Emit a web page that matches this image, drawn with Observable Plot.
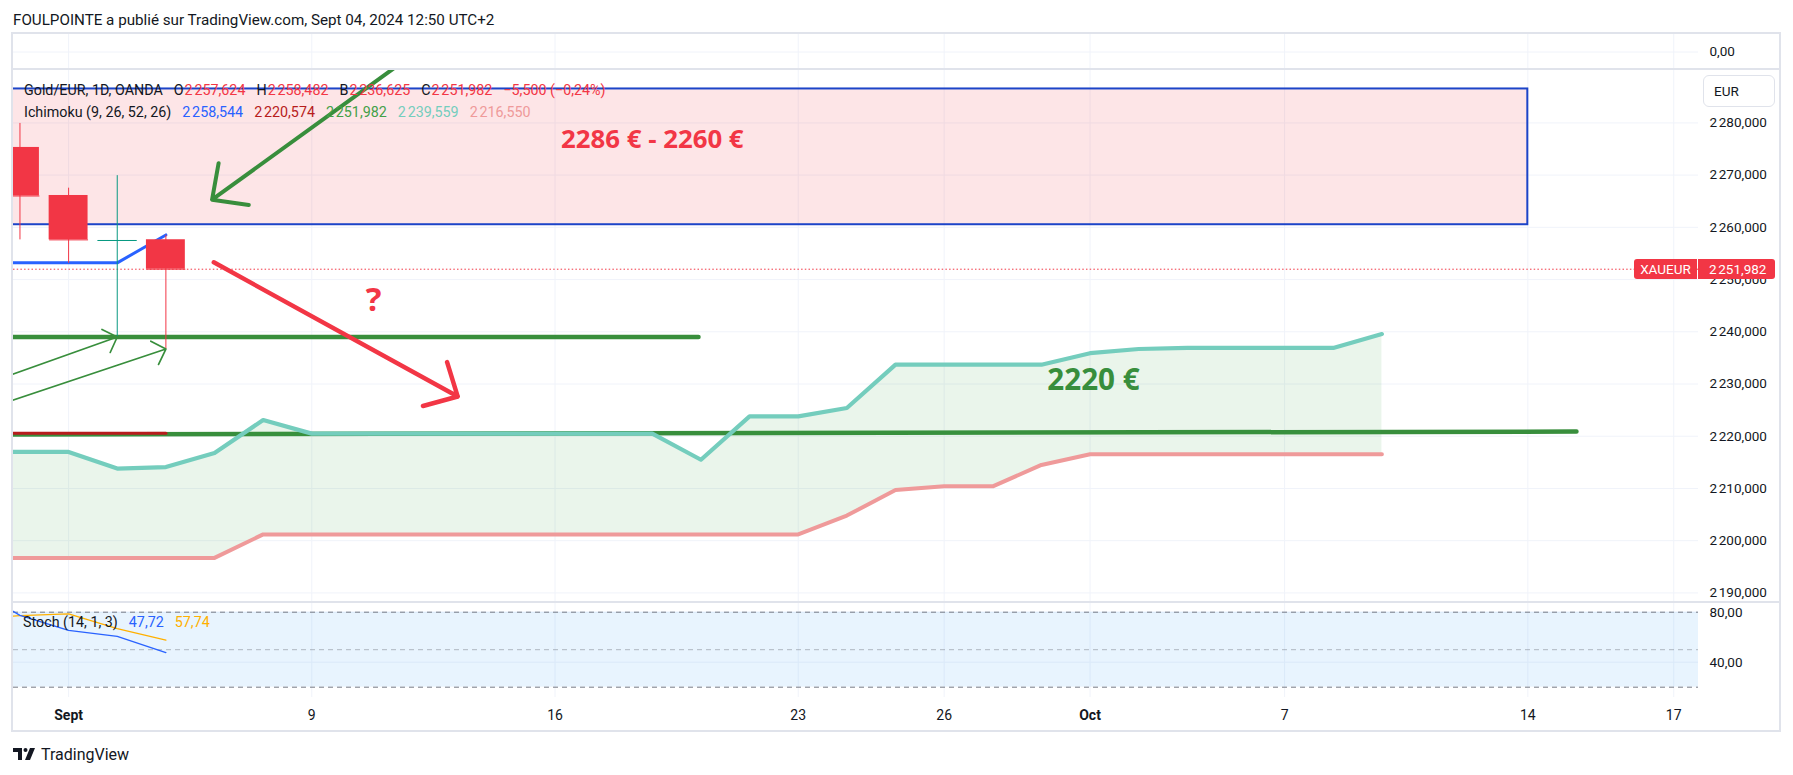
<!DOCTYPE html>
<html>
<head>
<meta charset="utf-8">
<script src="https://cdn.jsdelivr.net/npm/d3@7"></script>
<script src="https://cdn.jsdelivr.net/npm/@observablehq/plot@0.6"></script>
<style>
html, body { margin: 0; padding: 0; background: #ffffff; }
#root { position: relative; width: 1793px; height: 775px; overflow: hidden; font-family: Roboto, "Noto Sans", "DejaVu Sans", sans-serif; color: #131722; }
.abs { position: absolute; white-space: nowrap; }
.legend { font-size: 14.3px; line-height: 16px; }
.legend .it { margin-left: 11px; }
.legend .v { margin-left: 1px; }
</style>
</head>
<body>
<div id="root"></div>
<script>
// ---------------- DATA ----------------
const dates = ["2024-08-29","2024-08-30","2024-09-02","2024-09-03","2024-09-04","2024-09-05","2024-09-06",
  "2024-09-09","2024-09-10","2024-09-11","2024-09-12","2024-09-13","2024-09-16","2024-09-17","2024-09-18",
  "2024-09-19","2024-09-20","2024-09-23","2024-09-24","2024-09-25","2024-09-26","2024-09-27","2024-09-30",
  "2024-10-01","2024-10-02","2024-10-03","2024-10-04","2024-10-07","2024-10-08","2024-10-09","2024-10-10",
  "2024-10-11","2024-10-14","2024-10-15","2024-10-16","2024-10-17"];

const tickDates  = ["2024-09-02","2024-09-09","2024-09-16","2024-09-23","2024-09-26","2024-10-01","2024-10-07","2024-10-14","2024-10-17"];
const tickLabels = ["Sept","9","16","23","26","Oct","7","14","17"];
const priceTicks = [2190, 2200, 2210, 2220, 2230, 2240, 2250, 2260, 2270, 2280];
const stochTicks = [80, 40];
const stochLevels = [80, 50, 20];

// candles
const candleDates = ["2024-08-30","2024-09-02","2024-09-03","2024-09-04"];
const openP  = [2275.3, 2266.1, 2257.35, 2257.624];
const highP  = [2279.9, 2267.5, 2269.9, 2258.482];
const lowP   = [2257.6, 2253.1, 2239.0, 2236.625];
const closeP = [2266.0, 2257.6, 2257.482, 2251.982];

// Ichimoku
const lineDates = ["2024-08-29","2024-08-30","2024-09-02","2024-09-03","2024-09-04"];
const tenkan = [2253.2, 2253.2, 2253.2, 2253.2, 2258.544];
const kijun  = [2220.574, 2220.574, 2220.574, 2220.574, 2220.574];
const lagging = 2251.982;
const spanA = [2217.0, 2217.0, 2217.0, 2213.8, 2214.1, 2216.8, 2223.1, 2220.5, 2220.5, 2220.5,
  2220.5, 2220.5, 2220.5, 2220.5, 2220.5, 2215.5, 2223.8, 2223.8, 2225.4, 2233.7,
  2233.7, 2233.7, 2233.7, 2235.9, 2236.7, 2236.9, 2236.9, 2236.9, 2236.9, 2239.559];
const spanB = [2196.7, 2196.7, 2196.7, 2196.7, 2196.7, 2196.7, 2201.2, 2201.2, 2201.2, 2201.2,
  2201.2, 2201.2, 2201.2, 2201.2, 2201.2, 2201.2, 2201.2, 2201.2, 2204.8, 2209.7,
  2210.4, 2210.4, 2214.5, 2216.55, 2216.55, 2216.55, 2216.55, 2216.55, 2216.55, 2216.55];

// Stochastic
const stochDates = ["2024-08-29","2024-08-30","2024-09-02","2024-09-03","2024-09-04"];
const stochK = [100, 77.5, 65.4, 60.6, 47.72];
const stochD = [74.5, 77.3, 78.7, 66.9, 57.74];

// drawings (bar index in `dates`, price)
const zoneBars = [0, 32];
const zonePrices = [2286.5, 2260.5];
const zoneLabel = "2286 € - 2260 €";
const zoneLabelAt = [14, 2276.8];
const levelStartBar = [0, 0];
const levelEndBar = [14.95, 33.0];
const levelStartPrice = [2239.0, 2220.3];
const levelEndPrice = [2239.0, 2220.9];
const greenArrow = {fromBar: 9.51, fromPrice: 2296.0, toBar: 4.95, toPrice: 2265.3};
const redArrow = {fromBar: 4.985, fromPrice: 2253.3, toBar: 10.0, toPrice: 2227.6};
const thinFromBar = [0, 0];
const thinFromPrice = [2229.05, 2224.25];
const thinToBar = [3, 4];
const thinToPrice = [2239.0, 2236.7];
const questionAt = [8.27, 2246.0];
const targetLabel = "2220 €";
const targetAt = [23.07, 2230.7];

// ---------------- HELPERS ----------------
const FONT = 'Roboto, "Noto Sans", "DejaVu Sans", sans-serif';
const pos = d => dates.indexOf(d);
function fr(v, d) {
  const s = Math.abs(v).toFixed(d);
  let [i, f] = s.split(".");
  i = i.replace(/\B(?=(\d{3})+(?!\d))/g, "\u202F");
  return (v < 0 ? "\u2212" : "") + i + (f ? "," + f : "");
}
const xDomain = [0.8672, 35.509];
const W = 1780, ML = 13, MR = 82;
const RED = "#F23645", UP = "#089981", GREEN = "#388E3C", GRID = "#F0F3FA";
const tickPos = tickDates.map(pos);
const baseStyle = {fontFamily: FONT, fontSize: "13.5px", color: "#131722", background: "transparent", overflow: "visible"};

const root = document.getElementById("root");
function add(el, left, top) { el.style.position = "absolute"; el.style.left = left + "px"; el.style.top = top + "px"; root.appendChild(el); return el; }
function div(html, cls, left, top, css) { const e = document.createElement("div"); e.className = "abs " + (cls || ""); e.innerHTML = html; if (css) e.style.cssText += css; return add(e, left, top); }

// ---------------- TOP EMPTY PANE ----------------
const topPane = Plot.plot({
  width: W, height: 35, marginLeft: ML, marginRight: MR, marginTop: 0, marginBottom: 0,
  style: baseStyle,
  x: {domain: xDomain, axis: null},
  y: {domain: [-1, 1]},
  marks: [
    Plot.gridX(tickPos, {stroke: GRID, strokeOpacity: 1}),
    Plot.ruleY([0], {stroke: GRID}),
    Plot.axisY([0], {anchor: "right", tickSize: 0, tickPadding: 11, tickFormat: v => fr(v, 2), label: null})
  ]
});
add(topPane, 0, 34);

// ---------------- MAIN PANE ----------------
const cloud = spanA.map((a, i) => ({x: pos(dates[i]), a, b: spanB[i]}));
const lines = lineDates.map((d, i) => ({x: pos(d), t: tenkan[i], k: kijun[i]}));
const candles = candleDates.map((d, i) => ({x: pos(d), o: openP[i], h: highP[i], l: lowP[i], c: closeP[i], col: closeP[i] >= openP[i] ? UP : RED}));
const levels = levelStartBar.map((b, i) => ({x1: b, x2: levelEndBar[i], y1: levelStartPrice[i], y2: levelEndPrice[i]}));
const thin = thinFromBar.map((b, i) => ({x1: b, y1: thinFromPrice[i], x2: thinToBar[i], y2: thinToPrice[i]}));
const lastClose = closeP[closeP.length - 1];

const main = Plot.plot({
  width: W, height: 533, marginLeft: ML, marginRight: MR, marginTop: 0, marginBottom: 0,
  style: baseStyle,
  x: {domain: xDomain, axis: null},
  y: {domain: [2188.16, 2290.226]},
  marks: [
    Plot.gridX(tickPos, {stroke: GRID, strokeOpacity: 1}),
    Plot.gridY(priceTicks, {stroke: GRID, strokeOpacity: 1}),
    Plot.axisY(priceTicks, {anchor: "right", tickSize: 0, tickPadding: 11, tickFormat: v => fr(v, 3), label: null}),
    // zone rectangle
    Plot.rect([0], {x1: zoneBars[0], x2: zoneBars[1], y1: zonePrices[1], y2: zonePrices[0], fill: RED, fillOpacity: 0.13, stroke: "#1C44C8", strokeWidth: 2, clip: true}),
    // horizontal levels
    Plot.link(levels, {x1: "x1", x2: "x2", y1: "y1", y2: "y2", stroke: GREEN, strokeWidth: 4.5, strokeLinecap: "round", clip: true}),
    // cloud
    Plot.areaY(cloud, {x: "x", y1: "b", y2: "a", fill: "#43A047", fillOpacity: 0.11, clip: true}),
    Plot.lineY(cloud, {x: "x", y: "b", stroke: "#EF9A9A", strokeWidth: 4, clip: true}),
    Plot.lineY(cloud, {x: "x", y: "a", stroke: "#74CDBD", strokeWidth: 4.2, clip: true}),
    Plot.lineY(lines, {x: "x", y: "k", stroke: "#B71C1C", strokeWidth: 3.2, clip: true}),
    Plot.lineY(lines, {x: "x", y: "t", stroke: "#2962FF", strokeWidth: 3, clip: true}),
    // last price line
    Plot.ruleY([lastClose], {stroke: RED, strokeWidth: 1, strokeDasharray: "1.5,2.2"}),
    // candles
    Plot.ruleX(candles, {x: "x", y1: "l", y2: "h", stroke: "col", strokeWidth: 1, clip: true}),
    Plot.rect(candles, {x1: d => d.x - 0.4, x2: d => d.x + 0.4, y1: "o", y2: "c", fill: "col", clip: true}),
    Plot.link(candles, {x1: d => d.x - 0.4, x2: d => d.x + 0.4, y1: "c", y2: "c", stroke: "col", strokeWidth: 1, clip: true}),
    // arrows
    Plot.arrow(thin, {x1: "x1", y1: "y1", x2: "x2", y2: "y2", stroke: GREEN, strokeWidth: 1.7, headLength: 15, headAngle: 92, clip: true}),
    Plot.arrow([greenArrow], {x1: "fromBar", y1: "fromPrice", x2: "toBar", y2: "toPrice", stroke: GREEN, strokeWidth: 4, headLength: 13.9, headAngle: 88, clip: true}),
    Plot.arrow([redArrow], {x1: "fromBar", y1: "fromPrice", x2: "toBar", y2: "toPrice", stroke: RED, strokeWidth: 4.5, headLength: 12, headAngle: 88, clip: true}),
    // texts
    Plot.text([zoneLabel], {x: zoneLabelAt[0], y: zoneLabelAt[1], text: d => d, fill: RED, fontWeight: "bold", fontSize: 25.8, fontFamily: '"Open Sans", sans-serif'}),
    Plot.text(["?"], {x: questionAt[0], y: questionAt[1], text: d => d, fill: RED, fontWeight: "bold", fontSize: 33, fontFamily: '"Open Sans", sans-serif'}),
    Plot.text([targetLabel], {x: targetAt[0], y: targetAt[1], text: d => d, fill: GREEN, fontWeight: "bold", fontSize: 29.6, fontFamily: '"Open Sans", sans-serif'})
  ]
});
add(main, 0, 69);

// ---------------- STOCH PANE ----------------
const stoch = stochDates.map((d, i) => ({x: pos(d), k: stochK[i], d: stochD[i]}));
const xlab = tickDates.map((d, i) => ({x: pos(d), label: tickLabels[i], bold: isNaN(+tickLabels[i])}));
const stochPlot = Plot.plot({
  width: W, height: 128, marginLeft: ML, marginRight: MR, marginTop: 0, marginBottom: 33,
  style: baseStyle,
  x: {domain: xDomain, axis: null},
  y: {domain: [11.76, 87.76]},
  marks: [
    Plot.gridX(tickPos, {stroke: GRID, strokeOpacity: 1}),
    Plot.gridY(stochTicks, {stroke: GRID, strokeOpacity: 1}),
    Plot.rect([0], {x1: xDomain[0], x2: xDomain[1], y1: stochLevels[2], y2: stochLevels[0], fill: "#2196F3", fillOpacity: 0.1}),
    Plot.ruleY([stochLevels[0], stochLevels[2]], {stroke: "#787B86", strokeDasharray: "5,4"}),
    Plot.ruleY([stochLevels[1]], {stroke: "#787B86", strokeOpacity: 0.5, strokeDasharray: "5,4"}),
    Plot.lineY(stoch, {x: "x", y: "d", stroke: "#FFB000", strokeWidth: 1.3, clip: true}),
    Plot.lineY(stoch, {x: "x", y: "k", stroke: "#2962FF", strokeWidth: 1.3, clip: true}),
    Plot.axisY(stochTicks, {anchor: "right", tickSize: 0, tickPadding: 11, tickFormat: v => fr(v, 2), label: null}),
    Plot.text(xlab.filter(d => !d.bold), {x: "x", text: "label", frameAnchor: "bottom", dy: 22, fill: "#131722", fontSize: 14}),
    Plot.text(xlab.filter(d => d.bold), {x: "x", text: "label", frameAnchor: "bottom", dy: 22, fill: "#131722", fontSize: 14, fontWeight: "bold"})
  ]
});
add(stochPlot, 0, 602);

// ---------------- SEPARATORS / FRAME ----------------
div("", "", 13, 68, "width:1766px;height:2px;background:#E0E3EB;");
div("", "", 13, 601, "width:1766px;height:2px;background:#E0E3EB;");
div("", "", 11, 32, "width:1770px;height:700px;border:2px solid #E0E3EB;box-sizing:border-box;");

// ---------------- TEXT / LEGENDS ----------------
div("FOULPOINTE a publié sur TradingView.com, Sept 04, 2024 12:50 UTC+2", "", 13, 11, "font-size:15.2px;line-height:19px;");

const n = closeP.length;
const chg = closeP[n - 1] - closeP[n - 2];
const pct = chg / closeP[n - 2] * 100;
div(`<span>Gold/EUR, 1D, OANDA</span>` +
    `<span class="it">O<span class="v" style="color:${RED}">${fr(openP[n-1],3)}</span></span>` +
    `<span class="it">H<span class="v" style="color:${RED}">${fr(highP[n-1],3)}</span></span>` +
    `<span class="it">B<span class="v" style="color:${RED}">${fr(lowP[n-1],3)}</span></span>` +
    `<span class="it">C<span class="v" style="color:${RED}">${fr(closeP[n-1],3)}</span></span>` +
    `<span class="it" style="color:${RED}">${fr(chg,3)} (${fr(pct,2)}%)</span>`, "legend", 24, 82);
div(`<span>Ichimoku (9, 26, 52, 26)</span>` +
    `<span class="it" style="color:#2962FF">${fr(tenkan[tenkan.length-1],3)}</span>` +
    `<span class="it" style="color:#B71C1C">${fr(kijun[kijun.length-1],3)}</span>` +
    `<span class="it" style="color:#43A047">${fr(lagging,3)}</span>` +
    `<span class="it" style="color:#74CDBD">${fr(spanA[spanA.length-1],3)}</span>` +
    `<span class="it" style="color:#EF9A9A">${fr(spanB[spanB.length-1],3)}</span>`, "legend", 24, 104);
div(`<span>Stoch (14, 1, 3)</span>` +
    `<span class="it" style="color:#2962FF">${fr(stochK[stochK.length-1],2)}</span>` +
    `<span class="it" style="color:#FFB000">${fr(stochD[stochD.length-1],2)}</span>`, "legend", 23, 614);

// EUR button
div("EUR", "", 1703, 75, "width:72px;height:32px;border:1px solid #E0E3EB;border-radius:6px;box-sizing:border-box;font-size:13.5px;line-height:30px;padding-left:10px;background:#fff;");

// last price tags
const yLast = 69 + main.scale("y").apply(lastClose);
div("XAUEUR", "", 1634, yLast - 10, `width:63px;height:20px;background:${RED};color:#fff;font-size:13.5px;line-height:20px;text-align:center;border-radius:3px 0 0 3px;`);
div(fr(lastClose, 3), "", 1698, yLast - 10, `width:77px;height:20px;background:${RED};color:#fff;font-size:13.5px;line-height:20px;padding-left:11px;box-sizing:border-box;border-radius:0 3px 3px 0;`);

// TradingView logo
div(`<svg width="24" height="12" viewBox="0 0 24 12"><path d="M0 0H9V12H5V4H0Z" fill="#131722"/><circle cx="12.5" cy="2" r="2" fill="#131722"/><path d="M17 0H22L17 12H12Z" fill="#131722"/></svg>`, "", 13, 748, "line-height:0;");
div("TradingView", "", 41, 745, "font-size:16px;line-height:20px;");
</script>
</body>
</html>
